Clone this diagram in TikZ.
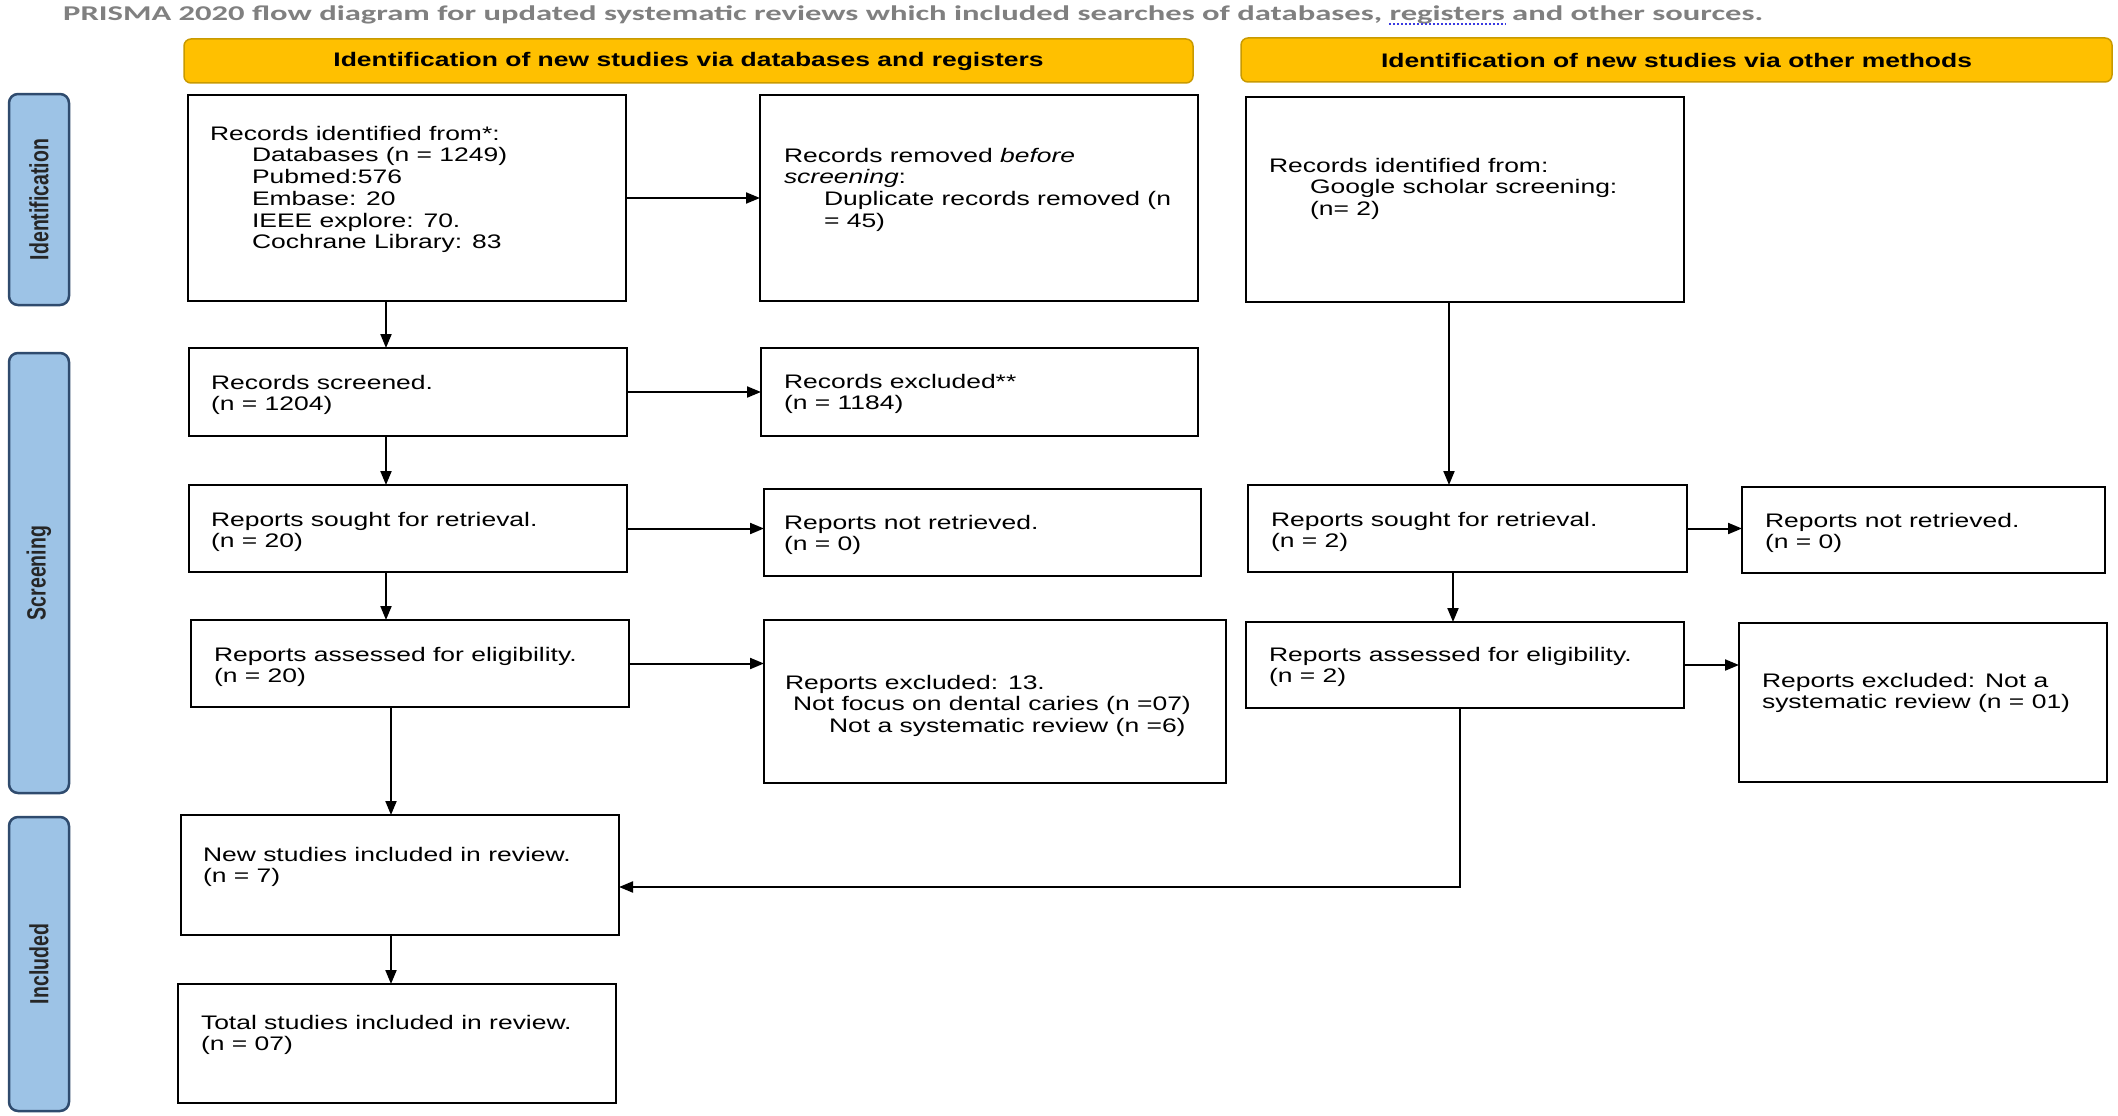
\documentclass[tikz,border=0pt]{standalone}
\usepackage{fontspec}
\setmainfont{Liberation Sans}
\newfontfamily\bodyfont{Liberation Sans}[FakeStretch=1.35]
\newfontfamily\barfont{Liberation Sans}
\newfontfamily\titlefont{Carlito}
\usetikzlibrary{arrows.meta,calc}
\definecolor{hdr}{HTML}{FFC000}
\definecolor{hdrb}{HTML}{C99A00}
\definecolor{barfill}{HTML}{9DC3E6}
\definecolor{barline}{HTML}{2F4B6E}
\definecolor{ttl}{HTML}{808080}
\definecolor{spell}{HTML}{3A3AE0}
\newlength\fitlen
\newcommand\fitwidth[2]{\settowidth\fitlen{#2}\pgfmathsetmacro\fitsc{#1/\fitlen}\scalebox{\fitsc}[1]{#2}}
\begin{document}
\begin{tikzpicture}[x=1pt,y=-1pt,
 box/.style={draw=black, line width=2.4pt, fill=white, inner sep=0pt, outer sep=0pt},
 txt/.style={anchor=north west, inner sep=0pt, outer sep=0pt, align=left, font=\bodyfont\fontsize{19.6}{21.7}\selectfont},
 hdrbox/.style={draw=hdrb, line width=1.5pt, fill=hdr, rounded corners=7pt, inner sep=0pt, font=\bodyfont\bfseries\fontsize{19.6}{21.7}\selectfont},
 sidebar/.style={draw=barline, line width=2.5pt, fill=barfill, rounded corners=9pt, inner sep=0pt},
 barlabel/.style={rotate=90, inner sep=0pt, text=black!85, font=\barfont\bfseries\fontsize{19.5}{22}\selectfont},
 arr/.style={line width=2pt, -{Triangle[length=14pt,width=11pt]}}]
\fill[white] (0,0) rectangle (2118,1116);
\useasboundingbox (0,0) rectangle (2118,1116);

% title
\node[anchor=base west, inner sep=0pt, text=ttl, font=\titlefont\bfseries\fontsize{21}{24}\selectfont] (T) at (63,21)
 {\fitwidth{1700pt}{PRISMA 2020 flow diagram for updated systematic reviews which included searches of databases, registers and other sources.}};
\draw[spell, line width=2pt, dash pattern=on 2pt off 2pt] (1389,24.5) coordinate (u1) -- (1506,24.5) coordinate (u2);

% headers
\node[hdrbox, minimum width=1009pt, minimum height=44pt] (H1) at (688.5,61) {Identification of new studies via databases and registers};
\node[hdrbox, minimum width=871pt, minimum height=44pt] (H2) at (1676.5,60) {Identification of new studies via other methods};

% side bars
\node[sidebar, minimum width=60pt, minimum height=211pt] (S1) at (39,199.5) {};
\node[sidebar, minimum width=60pt, minimum height=440pt] (S2) at (39,573) {};
\node[sidebar, minimum width=60pt, minimum height=294pt] (S3) at (39,964) {};
\node[barlabel] (S1t) at (S1.center) {\scalebox{1}[1.35]{Identification}};
\node[barlabel] (S2t) at (S2.center) {\scalebox{1}[1.35]{Screening}};
\node[barlabel] (S3t) at (S3.center) {\scalebox{1}[1.35]{Included}};

% boxes
\node[box, minimum width=438pt, minimum height=206pt] (B1) at (407,198) {};
\node[box, minimum width=438pt, minimum height=206pt] (B2) at (979,198) {};
\node[box, minimum width=438pt, minimum height=205pt] (B3) at (1465,199.5) {};
\node[box, minimum width=438pt, minimum height=88pt] (B4) at (408,392) {};
\node[box, minimum width=437pt, minimum height=88pt] (B5) at (979.5,392) {};
\node[box, minimum width=438pt, minimum height=87pt] (B6) at (408,528.5) {};
\node[box, minimum width=437pt, minimum height=87pt] (B7) at (982.5,532.5) {};
\node[box, minimum width=439pt, minimum height=87pt] (B8) at (1467.5,528.5) {};
\node[box, minimum width=363pt, minimum height=86pt] (B9) at (1923.5,530) {};
\node[box, minimum width=438pt, minimum height=87pt] (B10) at (410,663.5) {};
\node[box, minimum width=462pt, minimum height=163pt] (B11) at (995,701.5) {};
\node[box, minimum width=438pt, minimum height=86pt] (B12) at (1465,665) {};
\node[box, minimum width=368pt, minimum height=159pt] (B13) at (1923,702.5) {};
\node[box, minimum width=438pt, minimum height=120pt] (B14) at (400,875) {};
\node[box, minimum width=438pt, minimum height=119pt] (B15) at (397,1043.5) {};

% texts
\node[txt] (B1t) at ($(B1.north west)+(22,31)$) {Records identified from*:\\
 \hspace*{42pt}Databases (n = 1249)\\
 \hspace*{42pt}Pubmed:576\\
 \hspace*{42pt}Embase: 20\\
 \hspace*{42pt}IEEE explore: 70.\\
 \hspace*{42pt}Cochrane Library: 83};
\node[txt] (B2t) at ($(B2.north west)+(24,53)$) {Records removed \textit{before}\\
 \textit{screening}:\\
 \hspace*{40pt}Duplicate records removed (n\\
 \hspace*{40pt}= 45)};
\node[txt] (B3t) at ($(B3.north west)+(23,61)$) {Records identified from:\\
 \hspace*{41pt}Google scholar screening:\\
 \hspace*{41pt}(n= 2)};
\node[txt] (B4t) at ($(B4.north west)+(22,27)$) {Records screened.\\(n = 1204)};
\node[txt] (B5t) at ($(B5.north west)+(23,26)$) {Records excluded**\\(n = 1184)};
\node[txt] (B6t) at ($(B6.north west)+(22,27)$) {Reports sought for retrieval.\\(n = 20)};
\node[txt] (B7t) at ($(B7.north west)+(20,26)$) {Reports not retrieved.\\(n = 0)};
\node[txt] (B8t) at ($(B8.north west)+(23,27)$) {Reports sought for retrieval.\\(n = 2)};
\node[txt] (B9t) at ($(B9.north west)+(23,26)$) {Reports not retrieved.\\(n = 0)};
\node[txt] (B10t) at ($(B10.north west)+(23,27)$) {Reports assessed for eligibility.\\(n = 20)};
\node[txt] (B11t) at ($(B11.north west)+(21,55)$) {Reports excluded: 13.\\
 \hspace*{8pt}Not focus on dental caries (n =07)\\
 \hspace*{44pt}Not a systematic review (n =6)};
\node[txt] (B12t) at ($(B12.north west)+(23,25)$) {Reports assessed for eligibility.\\(n = 2)};
\node[txt] (B13t) at ($(B13.north west)+(23,50)$) {Reports excluded: Not a\\systematic review (n = 01)};
\node[txt] (B14t) at ($(B14.north west)+(22,32)$) {New studies included in review.\\(n = 7)};
\node[txt] (B15t) at ($(B15.north west)+(23,31)$) {Total studies included in review.\\(n = 07)};

% connectors
\coordinate (xa) at (386,0);
\coordinate (xb) at (391,0);
\coordinate (xc) at (1449,0);
\coordinate (xd) at (1453,0);
\coordinate (xe) at (1460,887);
\draw[arr] (B1.south -| xa) -- (B4.north -| xa);
\draw[arr] (B4.south -| xa) -- (B6.north -| xa);
\draw[arr] (B6.south -| xa) -- (B10.north -| xa);
\draw[arr] (B10.south -| xb) -- (B14.north -| xb);
\draw[arr] (B14.south -| xb) -- (B15.north -| xb);
\draw[arr] (B1.east) -- (B2.west);
\draw[arr] (B4.east) -- (B5.west);
\draw[arr] (B6.east) -- (B7.west |- B6.east);
\draw[arr] (B10.east) -- (B11.west |- B10.east);
\draw[arr] (B3.south -| xc) -- (B8.north -| xc);
\draw[arr] (B8.south -| xd) -- (B12.north -| xd);
\draw[arr] (B8.east) -- (B9.west |- B8.east);
\draw[arr] (B12.east) -- (B13.west |- B12.east);
\draw[arr] (B12.south -| xe) |- (B14.east |- xe);
\end{tikzpicture}
\end{document}
